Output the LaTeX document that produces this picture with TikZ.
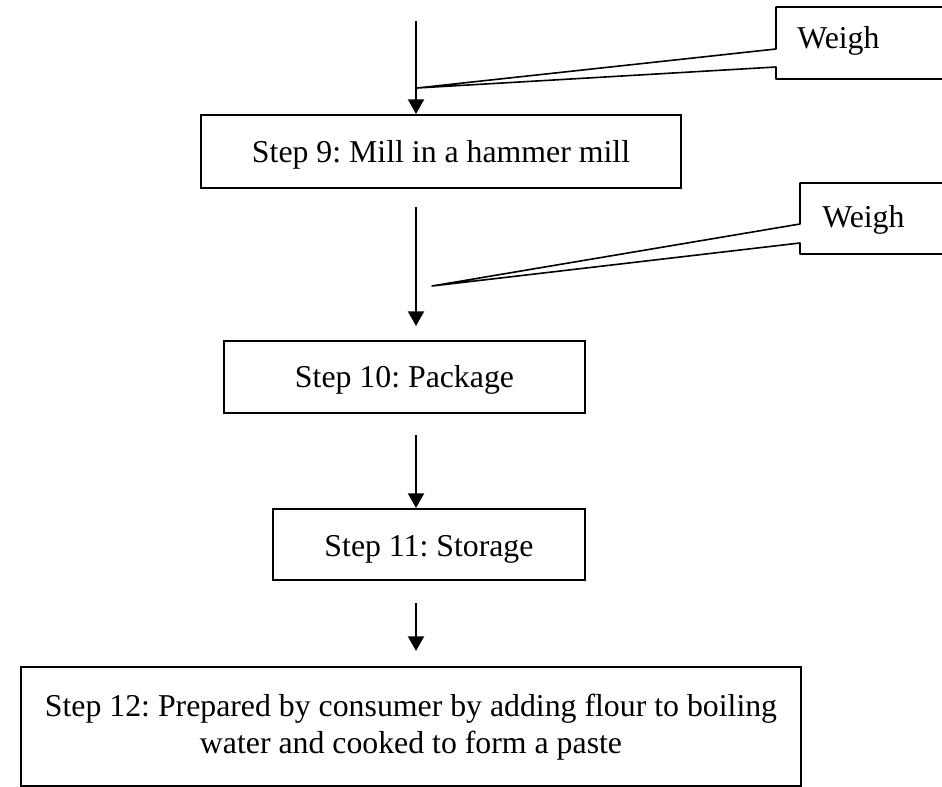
\documentclass[tikz,border=0pt]{standalone}
\usepackage{fontspec}
\setmainfont{Liberation Serif}
\usetikzlibrary{arrows.meta}
\frenchspacing

\begin{document}
\begin{tikzpicture}[x=0.75pt, y=-0.75pt, >={Triangle[width=12pt,length=11pt]},
    stepbox/.style={draw, line width=1.5pt, inner xsep=0pt, inner ysep=0pt, anchor=north west,
      font=\fontsize{23.85pt}{27.75pt}\selectfont},
    flow/.style={->, line width=1.5pt},
    callout/.style={line width=1.2pt, line join=round},
    weightext/.style={anchor=base west, inner sep=0pt, font=\fontsize{23.85pt}{27.75pt}\selectfont}]
    \useasboundingbox (0,0) rectangle (942,787);

    % Process steps (pixel coordinates, y pointing down)
    \node[stepbox, minimum width=360pt, text height=36pt, text depth=18.75pt] (step9) at (200,114) {Step 9: Mill in a hammer mill};
    \node[stepbox, minimum width=270.75pt, text height=35.25pt, text depth=18.75pt] (step10) at (223,340) {Step 10: Package};
    \node[stepbox, minimum width=234pt, text height=35.25pt, text depth=18pt] (step11) at (272,508) {Step 11: Storage};
    % two lines: the base is the last line
    \node[stepbox, minimum width=585pt, align=center, text height=64.5pt, text depth=24.75pt] (step12) at (20,666)
      {Step 12: Prepared by consumer by adding flour to boiling\\ water and cooked to form a paste};

    % Flow arrows, all on x = 416
    \coordinate (a1) at (416,21);
    \coordinate (a2) at (416,207);
    \coordinate (a2end) at (416,326);
    \coordinate (a3) at (416,435);
    \coordinate (a4) at (416,603);
    \coordinate (a4end) at (416,651);
    \draw[flow] (a1) -- (a1 |- step9.north);
    \draw[flow] (a2) -- (a2end);
    \draw[flow] (a3) -- (a3 |- step11.north);
    \draw[flow] (a4) -- (a4end);

    % Weigh callouts, cut off by the right edge
    \node[weightext] (weigh1) at (797,49) {Weigh};
    \coordinate (tip1) at (417,88);
    \draw[callout] (950,7) -- (776,7) -- (776,49) -- (tip1) -- (776,67) -- (776,79) -- (950,79);

    \node[weightext] (weigh2) at (822,228) {Weigh};
    \coordinate (tip2) at (432,286);
    \draw[callout] (950,183) -- (800,183) -- (800,224) -- (tip2) -- (800,243) -- (800,254) -- (950,254);
  \end{tikzpicture}
\end{document}
